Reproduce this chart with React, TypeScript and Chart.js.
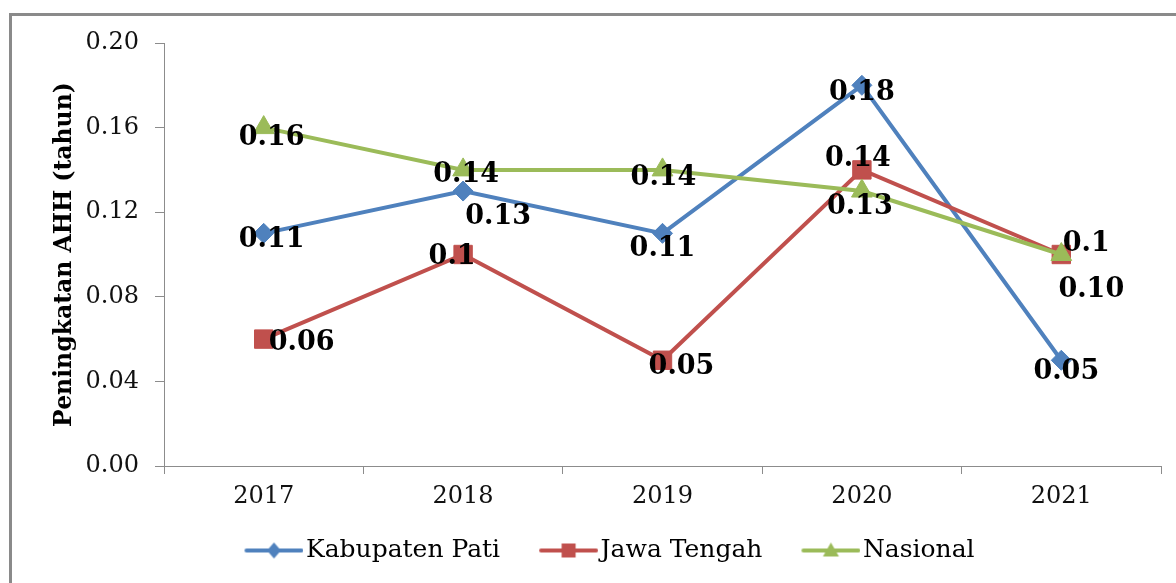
import React, { useEffect, useRef } from 'react';
import { Chart, registerables } from 'chart.js';

Chart.register(...registerables);

// ---- data ----
const YEARS = ['2017', '2018', '2019', '2020', '2021'];
const SERIES_NAMES = ['Kabupaten Pati', 'Jawa Tengah', 'Nasional'];
const KABUPATEN_PATI = [0.11, 0.13, 0.11, 0.18, 0.05];
const JAWA_TENGAH = [0.06, 0.1, 0.05, 0.14, 0.1];
const NASIONAL = [0.16, 0.14, 0.14, 0.13, 0.1];
const KABUPATEN_PATI_LABELS = ['0.11', '0.13', '0.11', '0.18', '0.05'];
const JAWA_TENGAH_LABELS = ['0.06', '0.1', '0.05', '0.14', '0.1'];
const NASIONAL_LABELS = ['0.16', '0.14', '0.14', '0.13', '0.10'];
const Y_MIN = 0;
const Y_MAX = 0.2;
const Y_STEP = 0.04;
const Y_TITLE = 'Peningkatan AHH (tahun)';

// ---- styling ----
const FONT = 'DejaVu Serif';
const COLORS = ['#4F81BD', '#C0504D', '#9BBB59'];
const AXIS_COLOR = '#8c8c8c';
// label placement relative to each point (dx, dy) in px
const LABEL_OFFSETS = [
  [[8, 7], [35, 26], [0, 16], [0, 8], [5, 12]],
  [[38, 4], [-11, 2], [19, 7], [-4, -11], [25, -11]],
  [[8, 10], [3, 5], [1, 8], [-2, 16], [30, 35]],
];

// legend swatch: 80px wide image, line drawn on its right part so it sits
// just before the legend text
function legendImage(color: string, style: string): HTMLCanvasElement {
  const c = document.createElement('canvas');
  c.width = 80;
  c.height = 20;
  const ctx = c.getContext('2d')!;
  ctx.strokeStyle = color;
  ctx.lineWidth = 4;
  ctx.lineCap = 'round';
  ctx.beginPath();
  ctx.moveTo(23, 10);
  ctx.lineTo(78, 10);
  ctx.stroke();
  ctx.fillStyle = color;
  ctx.beginPath();
  const cx = 50.5;
  const cy = 10;
  if (style === 'diamond') {
    ctx.moveTo(cx, cy - 8);
    ctx.lineTo(cx + 7, cy);
    ctx.lineTo(cx, cy + 8);
    ctx.lineTo(cx - 7, cy);
  } else if (style === 'square') {
    ctx.rect(cx - 7, cy - 7, 14, 14);
  } else {
    ctx.moveTo(cx, cy - 8);
    ctx.lineTo(cx + 8, cy + 6);
    ctx.lineTo(cx - 8, cy + 6);
  }
  ctx.closePath();
  ctx.fill();
  return c;
}

export default function App() {
  const ref = useRef<HTMLCanvasElement | null>(null);

  useEffect(() => {
    if (!ref.current) return;
    const seriesLabels = [KABUPATEN_PATI_LABELS, JAWA_TENGAH_LABELS, NASIONAL_LABELS];
    const legendStyles = ['diamond', 'square', 'triangle'];

    const labelPlugin = {
      id: 'pointLabels',
      afterDatasetsDraw(chart: any) {
        const ctx = chart.ctx;
        ctx.save();
        ctx.font = `bold 27px "${FONT}"`;
        ctx.fillStyle = '#000';
        ctx.textAlign = 'center';
        ctx.textBaseline = 'middle';
        chart.data.datasets.forEach((ds: any, di: number) => {
          const meta = chart.getDatasetMeta(di);
          meta.data.forEach((pt: any, i: number) => {
            const [dx, dy] = LABEL_OFFSETS[di][i];
            ctx.fillText(seriesLabels[di][i], pt.x + dx, pt.y + dy);
          });
        });
        ctx.restore();
      },
    };

    const chart = new Chart(ref.current, {
      type: 'line',
      data: {
        labels: YEARS,
        datasets: [
          {
            label: SERIES_NAMES[0],
            data: KABUPATEN_PATI,
            borderColor: COLORS[0],
            backgroundColor: COLORS[0],
            borderWidth: 4,
            pointStyle: 'rectRot',
            pointRadius: 10,
            pointHoverRadius: 10,
            pointBorderWidth: 1,
            tension: 0,
            order: 2,
          },
          {
            label: SERIES_NAMES[1],
            data: JAWA_TENGAH,
            borderColor: COLORS[1],
            backgroundColor: COLORS[1],
            borderWidth: 4,
            pointStyle: 'rect',
            pointRadius: 13,
            pointHoverRadius: 13,
            pointBorderWidth: 1,
            tension: 0,
            order: 1,
          },
          {
            label: SERIES_NAMES[2],
            data: NASIONAL,
            borderColor: COLORS[2],
            backgroundColor: COLORS[2],
            borderWidth: 4,
            pointStyle: 'triangle',
            pointRadius: 12,
            pointHoverRadius: 12,
            pointBorderWidth: 1,
            tension: 0,
            order: 0,
          },
        ],
      },
      options: {
        responsive: false,
        animation: false,
        layout: { padding: { left: 47, right: 15, top: 43, bottom: 10 } },
        plugins: {
          tooltip: { enabled: false },
          legend: {
            position: 'bottom',
            labels: {
              usePointStyle: true,
              pointStyleWidth: 60,
              padding: 28,
              color: '#000',
              font: { family: FONT, size: 25 },
              generateLabels: () =>
                SERIES_NAMES.map((name, i) => ({
                  text: name,
                  pointStyle: legendImage(COLORS[i], legendStyles[i]),
                  fillStyle: COLORS[i],
                  strokeStyle: COLORS[i],
                  lineWidth: 0,
                  hidden: false,
                  datasetIndex: i,
                  fontColor: '#000',
                })),
            },
          },
        },
        scales: {
          x: {
            offset: true,
            grid: {
              offset: true,
              drawOnChartArea: false,
              drawTicks: true,
              tickLength: 8,
              color: AXIS_COLOR,
            },
            border: { color: AXIS_COLOR, width: 1 },
            ticks: {
              color: '#111',
              padding: 8,
              font: { family: FONT, size: 24 },
              maxRotation: 0,
            },
            afterFit: (scale: any) => {
              scale.height = 44;
            },
          },
          y: {
            min: Y_MIN,
            max: Y_MAX,
            grid: {
              drawOnChartArea: false,
              drawTicks: true,
              tickLength: 9,
              color: AXIS_COLOR,
            },
            border: { color: AXIS_COLOR, width: 1 },
            ticks: {
              stepSize: Y_STEP,
              color: '#111',
              padding: 16,
              font: { family: FONT, size: 24 },
              callback: (v: any) => Number(v).toFixed(2),
            },
            title: {
              display: true,
              text: Y_TITLE,
              color: '#000',
              font: { family: FONT, size: 23.5, weight: 'bold' },
            },
            afterFit: (scale: any) => {
              scale.width = 117;
            },
          },
        },
      },
      plugins: [labelPlugin],
    } as any);

    return () => chart.destroy();
  }, []);

  return (
    <div
      style={{
        position: 'fixed',
        left: 0,
        top: 0,
        width: 1176,
        height: 583,
        overflow: 'hidden',
        background: '#fff',
      }}
    >
      <div
        style={{
          position: 'absolute',
          left: 9,
          top: 13,
          width: 1300,
          height: 700,
          border: '3px solid #8a8a8a',
          boxSizing: 'border-box',
        }}
      />
      <canvas
        ref={ref}
        width={1176}
        height={583}
        style={{ position: 'absolute', left: 0, top: 0 }}
      />
    </div>
  );
}
